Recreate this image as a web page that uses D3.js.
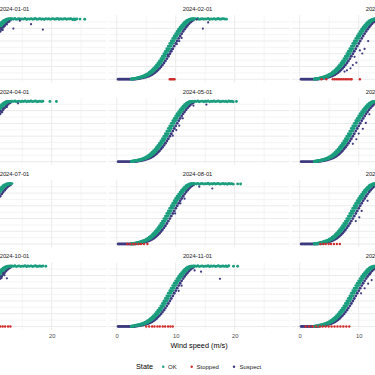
<!doctype html>
<html lang="en">
<head>
<meta charset="utf-8">
<title>Power curve by month</title>
<script src="https://cdnjs.cloudflare.com/ajax/libs/d3/7.8.5/d3.min.js"></script>
<style>
body { margin: 0; background: #fff; }
svg { display: block; font-family: "Liberation Sans", Arial, sans-serif; }
.strip { font-size: 5.8px; fill: #1a1a1a; }
.xaxis text { font-size: 5.8px; fill: #4d4d4d; font-family: "Liberation Sans", Arial, sans-serif; }
.title { font-size: 7.3px; fill: #000; }
.legend-label { font-size: 6px; fill: #1a1a1a; }
</style>
</head>
<body>
<script>

// ---- data ----
var months = ["2024-01-01", "2024-02-01", "2024-03-01", "2024-04-01", "2024-05-01", "2024-06-01",
              "2024-07-01", "2024-08-01", "2024-09-01", "2024-10-01", "2024-11-01", "2024-12-01"];
var states = ["OK", "Stopped", "Suspect"];
var stateColors = ["#1b9e7e", "#cf2b2b", "#3c3a7e"];

var windRange = [0, 27.9];
var kwRange = [0, 2390];
var xMajor = [0, 10, 20], xMinor = [5, 15, 25];
var yMajor = [0, 500, 1000, 1500, 2000], yMinor = [250, 750, 1250, 1750, 2250];

// rising part of the curve (shared by every month)
var curveWind = [2.5, 2.75, 3, 3.25, 3.5, 3.75, 4, 4.25, 4.5, 4.75, 5, 5.25, 5.5, 5.75, 6, 6.25, 6.5, 6.75,
                 7, 7.25, 7.5, 7.75, 8, 8.25, 8.5, 8.75, 9, 9.25, 9.5, 9.75, 10, 10.25, 10.5, 10.75,
                 11, 11.25, 11.5, 11.75, 12, 12.25, 12.5, 12.75, 13];
var okKW = [0, 7, 14, 24, 33, 45, 59, 73, 90, 109, 130, 156, 187, 222, 265, 312, 367, 426, 492, 563,
            639, 721, 809, 901, 998, 1097, 1199, 1301, 1402, 1504, 1603, 1698, 1790, 1878, 1961, 2039,
            2110, 2176, 2235, 2285, 2322, 2348, 2365];
var okUpperKW = [7, 14, 24, 33, 45, 59, 73, 90, 109, 130, 156, 187, 222, 265, 312, 367, 426, 492, 563,
                 639, 721, 809, 901, 998, 1097, 1199, 1301, 1402, 1504, 1603, 1698, 1790, 1878, 1961,
                 2039, 2110, 2176, 2235, 2285, 2322, 2348, 2365, 2365];
var okTopKW = [14, 24, 33, 45, 59, 73, 90, 109, 130, 156, 187, 222, 265, 312, 367, 426, 492, 563, 639,
               721, 809, 901, 998, 1097, 1199, 1301, 1402, 1504, 1603, 1698, 1790, 1878, 1961, 2039,
               2110, 2176, 2235, 2285, 2322, 2348, 2365, 2365, 2365];
var suspectKW = [0, 0, 0, 7, 14, 24, 33, 45, 59, 73, 90, 109, 130, 156, 187, 222, 265, 312, 367, 426,
                 492, 563, 639, 721, 809, 901, 998, 1097, 1199, 1301, 1402, 1504, 1603, 1698, 1790,
                 1878, 1961, 2039, 2110, 2176, 2235, 2285, 2322];

// rated plateau
var plateauWind = [13.25, 13.5, 13.75, 14, 14.25, 14.5, 14.75, 15, 15.25, 15.5, 15.75, 16, 16.25, 16.5,
                   16.75, 17, 17.25, 17.5, 17.75, 18, 18.25, 18.5, 18.75, 19, 19.25, 19.5, 19.75, 20,
                   20.25, 20.5, 20.75, 21, 21.25, 21.5, 21.75, 22, 22.25, 22.5, 22.75, 23, 23.25, 23.5,
                   23.75, 24, 24.25, 24.5];
var plateauKW = [2372, 2356, 2381, 2349, 2366, 2377, 2352, 2369, 2360, 2384, 2347, 2371, 2358, 2379,
                 2354, 2367, 2382, 2350, 2363, 2375, 2357, 2370, 2346, 2380, 2361, 2373, 2351, 2368,
                 2378, 2355, 2364, 2383, 2348, 2374, 2359, 2366, 2380, 2353, 2369, 2362, 2376, 2350,
                 2371, 2357, 2365, 2379];
var plateauEnd = [24.25, 18.0, 19.0, 18.5, 19.75, 19.0, 13.25, 19.75, 18.0, 18.5, 19.0, 17.0];

// low wind, zero output (suspect)
var lowWind = [0.25, 0.5, 0.75, 1, 1.25, 1.5, 1.75, 2, 2.25];

var okTail = [
  [[23.6, 2340], [23.9, 2330], [24.8, 2360], [25.6, 2355]],
  [[18.3, 2362], [18.6, 2358]],
  [[19.6, 2360]],
  [[19.7, 2362], [20.8, 2358]],
  [[20.3, 2360]],
  [],
  [],
  [[20.5, 2360], [21.0, 2355]],
  [],
  [[19.0, 2360]],
  [[19.8, 2360], [20.5, 2362]],
  []
];

var suspectPts = [
  [[11.4, 2010], [11.7, 1930], [12.0, 2080], [12.4, 2150], [12.8, 2260], [13.5, 1990], [14.6, 2300], [16.5, 2160], [18.5, 1950]],
  [[8.7, 960], [9.1, 1090], [9.4, 1180], [10.2, 1380], [10.6, 1500], [11.0, 1620], [13.6, 2350], [14.6, 1990], [15.5, 2230]],
  [[7.6, 300], [8.0, 350], [8.6, 430], [9.0, 560], [9.3, 880], [9.6, 650], [10.2, 1130], [10.6, 1010], [11.0, 1190], [11.6, 1500]],
  [[11.3, 1990], [11.6, 1940], [11.8, 2080], [12.4, 2140], [14.3, 2290]],
  [[9.5, 1020], [10.1, 1240], [10.6, 1410], [11.2, 1700], [13.0, 2200], [15.2, 2240]],
  [[9.0, 700], [9.6, 880], [10.0, 1100], [10.7, 1290], [11.2, 1520], [11.8, 1860]],
  [[11.6, 1980], [12.1, 2120]],
  [[9.9, 1200], [10.8, 1600], [11.5, 1780], [14.0, 2250], [16.2, 2180]],
  [[9.5, 900], [10.1, 1050], [10.5, 1300], [11.5, 1700]],
  [[11.3, 1960], [11.5, 1900], [11.8, 2100], [12.0, 2010], [12.4, 1890]],
  [[10.5, 1400], [11.0, 1600], [13.2, 2200], [14.3, 2150], [17.5, 1870]],
  [[10.4, 1300], [11.0, 1500], [11.6, 1680], [11.9, 2050], [12.2, 1820]]
];

var stoppedPts = [
  [],
  [[9.0, 0], [9.2, 0], [9.4, 0], [9.6, 0], [9.8, 0]],
  [[3.7, 0], [4.5, 0], [5.6, 0], [5.9, 0], [6.2, 0], [6.5, 0], [6.8, 0], [7.1, 0], [7.4, 0], [7.7, 0], [8.0, 0], [8.3, 0], [8.6, 0], [8.8, 0], [10.2, 0]],
  [],
  [],
  [],
  [],
  [[1.8, 0], [2.3, 0], [2.8, 0], [3.2, 0], [3.7, 0], [4.1, 0], [4.6, 0], [5.2, 0]],
  [[3.5, 0], [4.0, 0], [4.4, 0], [4.9, 0], [5.3, 0], [5.8, 0], [6.3, 0], [6.8, 0]],
  [[10.2, 0], [10.8, 0], [11.3, 0], [11.7, 0], [12.1, 0], [12.6, 0], [13.0, 0]],
  [[5.0, 0], [5.5, 0], [6.0, 0], [6.4, 0], [6.9, 0], [7.3, 0], [7.8, 0], [8.2, 0], [8.7, 0], [9.1, 0], [9.5, 0]],
  [[1.0, 0], [1.6, 0], [2.2, 0], [2.8, 0], [3.4, 0], [3.9, 0], [4.4, 0], [4.9, 0], [5.4, 0], [5.9, 0], [6.4, 0], [6.9, 0], [7.4, 0], [7.9, 0], [8.4, 0]]
];

// ---- layout ----
var width = 375, height = 375;
var panelW = 181, panelH = 67, colStep = 183, rowStep = 82.4, left0 = -74.5, top0 = 15.3;
var pr = 1.45; // point radius

var wSpan = windRange[1] - windRange[0], kSpan = kwRange[1] - kwRange[0];
var x = d3.scaleLinear()
    .domain([windRange[0] - 0.05 * wSpan, windRange[1] + 0.05 * wSpan])
    .range([0, panelW]);
var y = d3.scaleLinear()
    .domain([kwRange[0] - 0.05 * kSpan, kwRange[1] + 0.05 * kSpan])
    .range([panelH, 0]);
var color = d3.scaleOrdinal().domain(states).range(stateColors);

var svg = d3.select("body").append("svg")
    .attr("width", width)
    .attr("height", height);

function dots(g, pts, state, rad) {
  g.append("g")
    .selectAll("circle")
    .data(pts)
    .join("circle")
      .attr("cx", function(d) { return x(d[0]); })
      .attr("cy", function(d) { return y(d[1]); })
      .attr("r", rad || pr)
      .attr("fill", color(state));
}

months.forEach(function(m, i) {
  var c = i % 3, r = Math.floor(i / 3);
  var g = svg.append("g")
      .attr("transform", "translate(" + (left0 + c * colStep) + "," + (top0 + r * rowStep) + ")");

  // grid
  g.selectAll(".hmin").data(yMinor).join("line")
      .attr("x1", 0).attr("x2", panelW)
      .attr("y1", function(d) { return y(d); }).attr("y2", function(d) { return y(d); })
      .attr("stroke", "#ededed").attr("stroke-width", 0.6);
  g.selectAll(".hmaj").data(yMajor).join("line")
      .attr("x1", 0).attr("x2", panelW)
      .attr("y1", function(d) { return y(d); }).attr("y2", function(d) { return y(d); })
      .attr("stroke", "#ebebeb").attr("stroke-width", 1);
  g.selectAll(".vmin").data(xMinor).join("line")
      .attr("y1", 0).attr("y2", panelH)
      .attr("x1", function(d) { return x(d); }).attr("x2", function(d) { return x(d); })
      .attr("stroke", "#ededed").attr("stroke-width", 0.6);
  g.selectAll(".vmaj").data(xMajor).join("line")
      .attr("y1", 0).attr("y2", panelH)
      .attr("x1", function(d) { return x(d); }).attr("x2", function(d) { return x(d); })
      .attr("stroke", "#ebebeb").attr("stroke-width", 1);

  // strip
  g.append("text")
      .attr("class", "strip")
      .attr("x", panelW / 2 - 1.5)
      .attr("y", -4.2)
      .attr("text-anchor", "middle")
      .text(m);

  // points
  var lowPts = lowWind.map(function(w) { return [w, 0]; });
  var suspBand = curveWind.map(function(w, k) { return [w, suspectKW[k]]; });
  dots(g, lowPts.concat(suspBand), "Suspect");

  var okPts = [];
  curveWind.forEach(function(w, k) {
    okPts.push([w, okTopKW[k]], [w, okUpperKW[k]], [w, okKW[k]]);
  });
  plateauWind.forEach(function(w, k) {
    if (w <= plateauEnd[i]) okPts.push([w, plateauKW[k]]);
  });
  dots(g, okPts.concat(okTail[i]), "OK");
  dots(g, suspectPts[i], "Suspect", 1.1);
  dots(g, stoppedPts[i], "Stopped", 1.2);

  // bottom axis on last row
  if (r === 3) {
    g.append("g")
        .attr("class", "xaxis")
        .attr("color", "#4d4d4d")
        .attr("transform", "translate(0," + panelH + ")")
        .call(d3.axisBottom(x).tickValues(xMajor).tickSize(0).tickPadding(4))
        .call(function(a) { a.select(".domain").remove(); });
  }
});

// axis title
svg.append("text")
    .attr("class", "title")
    .attr("x", left0 + colStep + panelW / 2)
    .attr("y", 347.5)
    .attr("text-anchor", "middle")
    .text("Wind speed (m/s)");

// legend
var legendY = 366.7;
var keyX = [163.3, 191.7, 234], labelX = [168, 196.5, 239.5];
svg.append("text")
    .attr("class", "title")
    .attr("x", 136)
    .attr("y", legendY + 2.6)
    .text("State");
var lg = svg.append("g");
lg.selectAll("circle").data(states).join("circle")
    .attr("cx", function(d, k) { return keyX[k]; })
    .attr("cy", legendY)
    .attr("r", 1.2)
    .attr("fill", function(d) { return color(d); });
lg.selectAll("text").data(states).join("text")
    .attr("class", "legend-label")
    .attr("x", function(d, k) { return labelX[k]; })
    .attr("y", legendY + 2.1)
    .text(function(d) { return d; });

</script>
</body>
</html>
